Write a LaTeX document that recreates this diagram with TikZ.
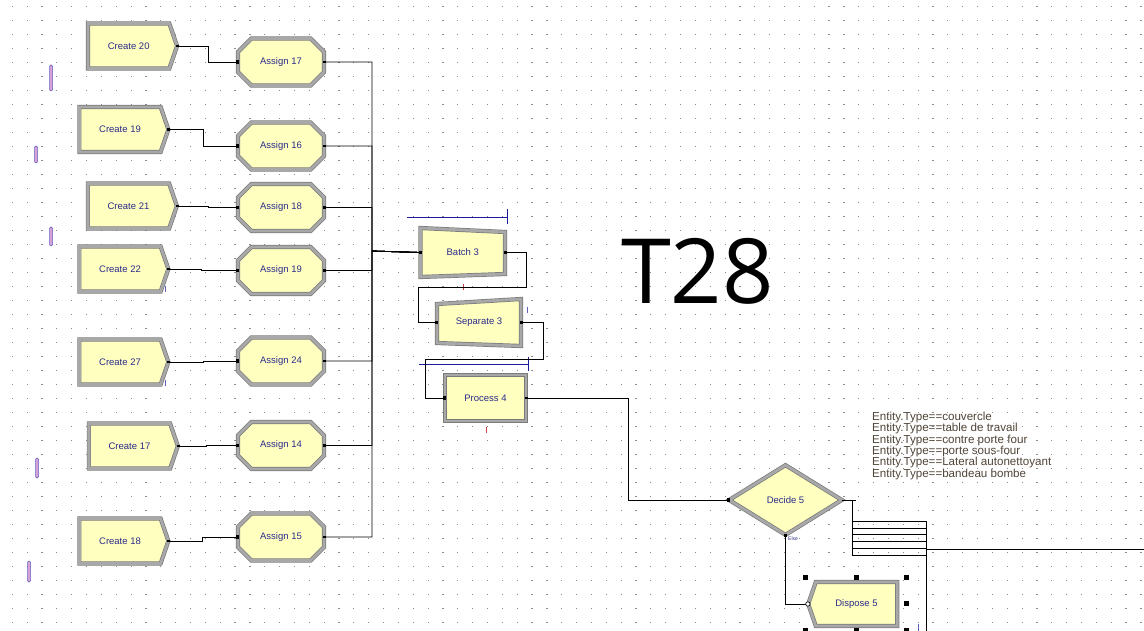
\documentclass[tikz,border=0pt]{standalone}
\usepackage{fontspec}
\setmainfont{Liberation Sans}
\newfontfamily\bigfont{Open Sans}
\usetikzlibrary{shapes.symbols,shapes.misc,shapes.geometric,calc}
\definecolor{modfill}{HTML}{FFFFC0}
\definecolor{modband}{HTML}{A8A8A8}
\definecolor{modedge}{HTML}{7A7A7A}
\definecolor{lblc}{HTML}{2B2B8C}
\definecolor{dotc}{HTML}{8A8A8A}
\definecolor{bluemk}{HTML}{1C1C9C}
\definecolor{redmk}{HTML}{D04040}
\definecolor{txtc}{HTML}{504538}
\definecolor{pinkmk}{HTML}{D8A0D8}
\tikzset{
  frame/.style={draw=modedge, line width=0.7pt, double=modband, double distance=2.8pt,
    fill=modfill, font=\fontsize{9.5}{10}\selectfont, text=lblc, inner sep=0pt, line join=miter},
  createbox/.style={frame, shape=signal, signal to=east, signal from=nowhere,
    signal pointer angle=142, minimum width=89pt, minimum height=45pt},
  disposebox/.style={frame, shape=signal, signal to=west, signal from=nowhere,
    signal pointer angle=142, minimum width=89pt, minimum height=44pt},
  assignbox/.style={frame, chamfered rectangle, chamfered rectangle xsep=9pt,
    chamfered rectangle ysep=9pt, minimum width=86pt, minimum height=47pt},
  processbox/.style={frame, rectangle, minimum width=81pt, minimum height=46pt},
  decidebox/.style={frame, diamond, aspect=1.6, minimum width=113pt, minimum height=70pt},
  plainlbl/.style={font=\fontsize{9.5}{10}\selectfont, text=lblc, inner sep=0pt},
  conn/.style={draw=black, line width=0.8pt},
  bluebar/.style={draw=bluemk, line width=0.9pt},
  redtick/.style={draw=redmk, line width=1pt},
  bluetick/.style={draw=bluemk!70, line width=1pt},
  pinkmark/.style={draw=bluemk!70, fill=pinkmk, line width=0.5pt, rounded corners=1.2pt},
  handle/.style={fill=black},
}
\begin{document}
\begin{tikzpicture}[x=1pt,y=-1pt]
\useasboundingbox (0,0) rectangle (1144,631);
\fill[white] (0,0) rectangle (1144,631);
% grid dots
\foreach \i in {0,...,77}{
  \foreach \j in {0,...,44}{
    \fill[dotc] ({11.7+\i*14.85},{6+\j*14}) rectangle ++(1.2,1.2);
  }
}
% left marks
\foreach \xx/\ya/\yb in {51/65/91, 36/146/163, 51/227/246, 37/458/478, 29/561/582}{
  \draw[pinkmark] (\xx-1.5,\ya) rectangle (\xx+1.5,\yb);
}
% Create modules
\node[createbox] (c20) at (128.7,46) {Create 20};
\node[createbox] (c19) at (120,129.5) {Create 19};
\node[createbox] (c21) at (128.5,206) {Create 21};
\node[createbox] (c22) at (120,269) {Create 22};
\node[createbox] (c27) at (120,362) {Create 27};
\node[createbox] (c17) at (129.5,446) {Create 17};
\node[createbox] (c18) at (120,541) {Create 18};
% Assign modules
\node[assignbox] (a17) at (281,62) {Assign 17};
\node[assignbox] (a16) at (281,146) {Assign 16};
\node[assignbox] (a18) at (281,207.5) {Assign 18};
\node[assignbox] (a19) at (281,270.5) {Assign 19};
\node[assignbox] (a24) at (281,361) {Assign 24};
\node[assignbox] (a14) at (281,445.5) {Assign 14};
\node[assignbox] (a15) at (281,537) {Assign 15};
% Batch and Separate
\draw[frame] (420.5,228) -- (505,232) -- (505,274) -- (420.5,277) -- cycle;
\node[plainlbl, minimum width=84.5pt, minimum height=49pt] (b3) at (462.75,252.5) {Batch 3};
\draw[frame] (437,304) -- (521,299) -- (521,346) -- (437,343) -- cycle;
\node[plainlbl, minimum width=84pt, minimum height=47pt] (s3) at (479,322.5) {Separate 3};
% Process, Decide, Dispose
\node[processbox] (p4) at (485.5,398) {Process 4};
\node[decidebox] (d5) at (785.5,500) {Decide 5};
\node[disposebox] (ds5) at (856.5,604) {Dispose 5};
% blue bars
\draw[bluebar] (407,217) -- (507,217);
\draw[bluebar] (507,209) -- (507,224);
\draw[bluebar] (419,364) -- (528,364);
\draw[bluebar] (528,357) -- (528,371);
% small ticks
\draw[redtick] (463,284) -- (463,290);
\draw[redtick] (486,427) -- (486,433);
\draw[bluetick] (527.5,307) -- (527.5,313);
\draw[bluetick] (165,286) -- (165,292);
\draw[bluetick] (165,380) -- (165,386);
\draw[bluetick] (918,624) -- (918,631);
% connectors create -> assign
\draw[conn] (c20.east) -- ++(31,0) |- (a17.west);
\draw[conn] (c19.east) -- ++(35,0) |- (a16.west);
\draw[conn] (c21.east) -- ++(31,0) |- (a18.west);
\draw[conn] (c22.east) -- ++(33,0) |- (a19.west);
\draw[conn] (c27.east) -- ++(35,0) |- (a24.west);
\draw[conn] (c17.east) -- ++(28,0) |- (a14.west);
\draw[conn] (c18.east) -- ++(34,0) |- (a15.west);
% assign -> batch
\coordinate (bus) at (372,251);
\foreach \a in {a17,a16,a18,a19,a24,a14,a15}{
  \draw[conn] (\a.east) -| (bus) -- (b3.west);
}
% batch -> separate -> process -> decide
\draw[conn] (b3.east) -| (526,287) -- (418,287) |- (s3.west);
\draw[conn] (s3.east) -| (543,359) -- (425,359) |- (p4.west);
\draw[conn] (p4.east) -- ++(102,0) |- (d5.west);
\draw[conn] (d5.south) |- (ds5.west);
% decide exits
\coordinate (dx) at (852,500);
\draw[conn] (d5.east) -- ++(14,0);
\draw[conn] (dx) -- (852,555);
\foreach \yy in {521,528,534.5,541,548,555}{
  \draw[conn] (852,\yy) -- (926,\yy);
}
\draw[conn] (926,521) -- (926,631);
\draw[conn] (926,549) -- (1144,549);
% ports
\foreach \n in {a17,a16,a18,a19,a24,a14,a15,p4,d5}{
  \fill (\n.west) +(-1.6,-1.6) rectangle +(1.6,1.6);
}
\foreach \n in {a17,a16,a18,a19,a24,a14,a15,p4,c20,c19,c21,c22,c27,c17,c18}{
  \fill (\n.east) +(-1.3,-1.3) rectangle +(1.3,1.3);
}
\fill (b3.west) +(-1.6,-1.6) rectangle +(1.6,1.6);
\fill (b3.east) +(-1.3,-1.3) rectangle +(1.3,1.3);
\fill (s3.west) +(-1.6,-1.6) rectangle +(1.6,1.6);
\fill (s3.east) +(-1.6,-1.6) rectangle +(1.6,1.6);
\fill (d5.south) +(-1.3,-1.3) rectangle +(1.3,1.3);
\draw[line width=0.6pt, fill=white] (ds5.west) circle (2.2);
\node[plainlbl, font=\fontsize{5}{5}\selectfont, anchor=north west] (else) at (788,537) {Else};
% selection handles on dispose
\foreach \p in {(805,577),(856,577),(906,577),(906,603),(805,630),(856,630),(906,630)}{
  \fill[handle] \p +(-2.5,-2.5) rectangle +(2.5,2.5);
}
% texts
\node[anchor=base west, inner sep=0pt, font=\bigfont\fontsize{90}{90}\selectfont] (title) at (621,304) {T28};
\node[anchor=north west, inner sep=0pt, align=left, text=txtc, font=\fontsize{11.6}{11.3}\selectfont] (cond) at (872,412)
 {Entity.Type==couvercle\\Entity.Type==table de travail\\Entity.Type==contre porte four\\Entity.Type==porte sous-four\\Entity.Type==Lateral autonettoyant\\Entity.Type==bandeau bombe};
\end{tikzpicture}
\end{document}
